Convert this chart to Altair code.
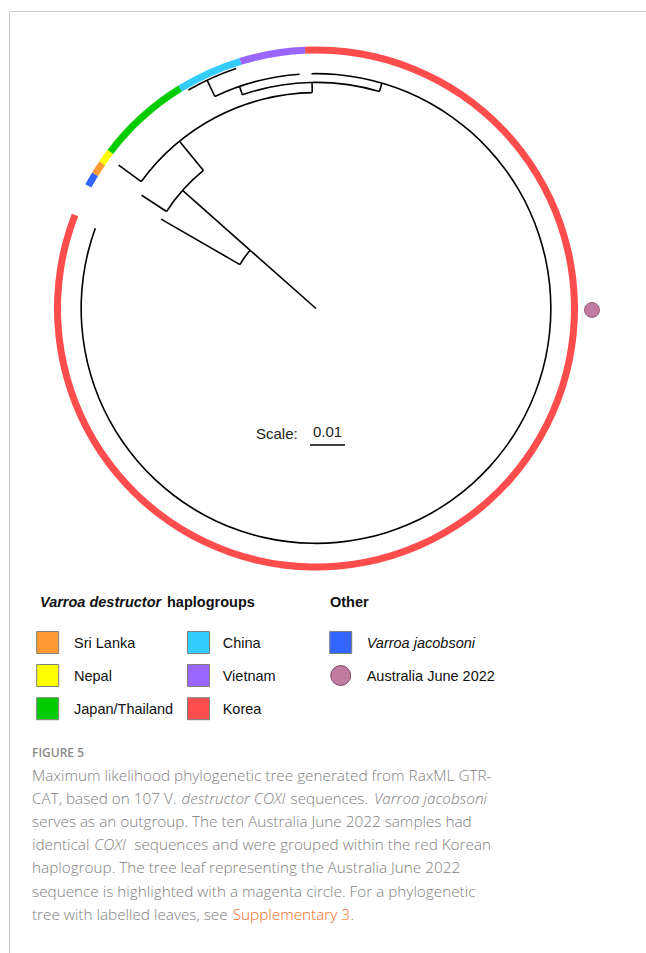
import altair as alt
import pandas as pd

W, H = 646, 953
CX, CY = 316.0, 308.5      # tree centre (px)
K = 3500.0                 # px per unit branch length (0.01 -> 35 px)
RING_IN, RING_OUT = 255.0, 262.0
MARK_R = 276.0
LW = 0.8                   # half line width for arcs

# ---------------- data ----------------
# radial branches: angle (deg, clockwise from north), start / end distance from root
branch_angle = [311.5, 300.0, 311.5, 303.0, 320.8, 306.0, 359.0, 341.0, 334.5, 16.3]
branch_from = [0.0, 0.0251, 0.0251, 0.0509, 0.0509, 0.0617, 0.0617, 0.0646, 0.0671, 0.0646]
branch_to = [0.0251, 0.0511, 0.0509, 0.0594, 0.0617, 0.0697, 0.0646, 0.0671, 0.0723, 0.0671]

# node connector arcs: distance from root, start angle, end angle
arc_dist = [0.0251, 0.0509, 0.0617, 0.0646, 0.0671, 0.0723, 0.0671]
arc_start = [300.0, 303.0, 306.0, 341.0, 334.5, 329.7, 358.9]
arc_end = [311.5, 320.8, 359.0, 376.3, 356.0, 341.6, 650.0]

# haplogroup ring
ring_group = ["Varroa jacobsoni", "Sri Lanka", "Nepal", "Japan/Thailand", "China", "Vietnam", "Korea"]
ring_start = [298.3, 301.3, 304.2, 307.3, 328.3, 343.0, 357.6]
ring_end = [301.3, 304.2, 307.3, 328.3, 343.0, 357.6, 651.2]
group_color = ["#3366FF", "#FF9933", "#FFFF00", "#00CC00", "#33CCFF", "#9966FF", "#FF4D4D"]

# highlighted leaf (Australia June 2022)
aus_angle = [90.3]
aus_color = "#C27BA0"

# legend
legend_labels = ["Sri Lanka", "Nepal", "Japan/Thailand", "China", "Vietnam", "Korea",
                 "Varroa jacobsoni", "Australia June 2022"]
legend_colors = ["#FF9933", "#FFFF00", "#00CC00", "#33CCFF", "#9966FF", "#FF4D4D", "#3366FF", aus_color]
legend_col = [0, 0, 0, 1, 1, 1, 2, 2]
legend_row = [0, 1, 2, 0, 1, 2, 0, 1]

# caption
caption_text = [
    "Maximum likelihood phylogenetic tree generated from RaxML GTR-",
    "CAT, based on 107 V.", "destructor COXI", "sequences.", "Varroa jacobsoni",
    "serves as an outgroup. The ten Australia June 2022 samples had",
    "identical", "COXI", "sequences and were grouped within the red Korean",
    "haplogroup. The tree leaf representing the Australia June 2022",
    "sequence is highlighted with a magenta circle. For a phylogenetic",
    "tree with labelled leaves, see", "Supplementary 3", ".",
]
caption_line = [0, 1, 1, 1, 1, 2, 3, 3, 3, 4, 5, 6, 6, 6]
caption_x = [32, 32, 181.5, 290.5, 374.0, 32, 32, 94.3, 134.3, 32, 32, 32, 232.7, 350.5]
caption_style = ["n", "n", "i", "n", "i", "n", "n", "i", "n", "n", "n", "n", "link", "n"]

# ---------------- layout constants ----------------
col_sq_x = [47.7, 198.5, 340.7]
col_tx_x = [74.0, 222.7, 366.7]
row_y = [642.5, 675.5, 708.7]
CAP_Y0, CAP_DY = 781.0, 23.1
CAP_COLOR = "#808080"
SANS = "Liberation Sans, Arial, sans-serif"
CAPFONT = "Open Sans, sans-serif"
CAP_SIZE = 15.3

xs = alt.Scale(domain=[0, W], nice=False, zero=False)
ys = alt.Scale(domain=[0, H], nice=False, zero=False, reverse=True)


def X(f):
    return alt.X(f, scale=xs, axis=None)


def Y(f):
    return alt.Y(f, scale=ys, axis=None)


# ---------------- tree ----------------
branches = pd.DataFrame({"angle": branch_angle, "d0": branch_from, "d1": branch_to})
rules = alt.Chart(branches).transform_calculate(
    x0=f"{CX} + {K}*datum.d0*sin(datum.angle*PI/180)",
    y0=f"{CY} - {K}*datum.d0*cos(datum.angle*PI/180)",
    x1=f"{CX} + {K}*datum.d1*sin(datum.angle*PI/180)",
    y1=f"{CY} - {K}*datum.d1*cos(datum.angle*PI/180)",
).mark_rule(color="black", strokeWidth=1.6).encode(
    x=X("x0:Q"), y=Y("y0:Q"), x2="x1:Q", y2="y1:Q"
)

arcs_df = pd.DataFrame({"dist": arc_dist, "a0": arc_start, "a1": arc_end})
arcs = alt.Chart(arcs_df).transform_calculate(
    t0="datum.a0*PI/180", t1="datum.a1*PI/180",
    ro=f"{K}*datum.dist + {LW}", ri=f"{K}*datum.dist - {LW}",
).mark_arc(color="black").encode(
    x=alt.XDatum(CX, type="quantitative", scale=xs, axis=None),
    y=alt.YDatum(CY, type="quantitative", scale=ys, axis=None),
    theta=alt.Theta("t0:Q", scale=None, stack=None), theta2="t1:Q",
    radius=alt.Radius("ro:Q", scale=None, stack=None), radius2="ri:Q",
)

ring_df = pd.DataFrame({"group": ring_group, "a0": ring_start, "a1": ring_end})
ring = alt.Chart(ring_df).transform_calculate(
    t0="datum.a0*PI/180", t1="datum.a1*PI/180",
).mark_arc(innerRadius=RING_IN, outerRadius=RING_OUT).encode(
    x=alt.XDatum(CX, type="quantitative", scale=xs, axis=None),
    y=alt.YDatum(CY, type="quantitative", scale=ys, axis=None),
    theta=alt.Theta("t0:Q", scale=None, stack=None), theta2="t1:Q",
    color=alt.Color("group:N", scale=alt.Scale(domain=ring_group, range=group_color), legend=None),
)

aus = alt.Chart(pd.DataFrame({"angle": aus_angle})).transform_calculate(
    x=f"{CX} + {MARK_R}*sin(datum.angle*PI/180)",
    y=f"{CY} - {MARK_R}*cos(datum.angle*PI/180)",
).mark_circle(size=225, color=aus_color, opacity=1, stroke="#7A4A66", strokeWidth=0.8).encode(
    x=X("x:Q"), y=Y("y:Q")
)

# scale bar
SB_X, SB_Y = 310.0, 445.0
scale_df = pd.DataFrame({"len": [0.01]})
scalebar = alt.Chart(scale_df).transform_calculate(
    x0=f"{SB_X}", x1=f"{SB_X} + {K}*datum.len", y=f"{SB_Y}"
).mark_rule(color="black", strokeWidth=1.6).encode(x=X("x0:Q"), x2="x1:Q", y=Y("y:Q"))
scale_lab = alt.Chart(scale_df).transform_calculate(
    x=f"{SB_X} + {K}*datum.len/2", y="436.7", t="format(datum.len, '.2f')"
).mark_text(font=SANS, fontSize=15, color="#222", align="center", baseline="alphabetic").encode(
    x=X("x:Q"), y=Y("y:Q"), text="t:N"
)
scale_word = alt.Chart(scale_df).mark_text(
    font=SANS, fontSize=15, color="#222", align="left", baseline="alphabetic", text="Scale:"
).encode(x=alt.value(256), y=alt.value(439.3))

# ---------------- legend ----------------
leg = pd.DataFrame({"label": legend_labels, "color": legend_colors,
                    "col": legend_col, "row": legend_row})
leg["sx"] = [col_sq_x[c] for c in leg["col"]]
leg["tx"] = [col_tx_x[c] for c in leg["col"]]
leg["y"] = [row_y[r] for r in leg["row"]]
leg["ty"] = leg["y"] + 5.2

sq = alt.Chart(leg).transform_filter("datum.label != 'Australia June 2022'").mark_square(
    size=484, opacity=1, stroke="#7f7f7f", strokeWidth=1
).encode(x=X("sx:Q"), y=Y("y:Q"), fill=alt.Fill("color:N", scale=None))
circ = alt.Chart(leg).transform_filter("datum.label == 'Australia June 2022'").mark_circle(
    size=400, opacity=1, stroke="#7A4A66", strokeWidth=1
).encode(x=X("sx:Q"), y=Y("y:Q"), fill=alt.Fill("color:N", scale=None))
leg_txt = alt.Chart(leg).transform_filter("datum.label != 'Varroa jacobsoni'").mark_text(
    font=SANS, fontSize=14.5, color="#111", align="left", baseline="alphabetic"
).encode(x=X("tx:Q"), y=Y("ty:Q"), text="label:N")
leg_txt_i = alt.Chart(leg).transform_filter("datum.label == 'Varroa jacobsoni'").mark_text(
    font=SANS, fontSize=14.5, color="#111", align="left", baseline="alphabetic", fontStyle="italic"
).encode(x=X("tx:Q"), y=Y("ty:Q"), text="label:N")

titles = pd.DataFrame({"t": ["Varroa destructor", "haplogroups", "Other"],
                       "x": [40.0, 167.0, 330.0], "it": [True, False, False]})
title_i = alt.Chart(titles).transform_filter("datum.it").mark_text(
    font=SANS, fontSize=14.5, fontWeight="bold", fontStyle="italic", color="#111",
    align="left", baseline="alphabetic"
).encode(x=X("x:Q"), y=alt.value(606.5), text="t:N")
title_n = alt.Chart(titles).transform_filter("!datum.it").mark_text(
    font=SANS, fontSize=14.5, fontWeight="bold", color="#111", align="left", baseline="alphabetic"
).encode(x=X("x:Q"), y=alt.value(606.5), text="t:N")

# ---------------- caption ----------------
cap = pd.DataFrame({"t": caption_text, "line": caption_line, "x": caption_x, "s": caption_style})
cap["y"] = CAP_Y0 + CAP_DY * cap["line"]


def cap_layer(style, **kw):
    return alt.Chart(cap).transform_filter(f"datum.s == '{style}'").mark_text(
        font=CAPFONT, fontSize=CAP_SIZE, fontWeight=300, align="left", baseline="alphabetic", **kw
    ).encode(x=X("x:Q"), y=Y("y:Q"), text="t:N")


cap_n = cap_layer("n", color=CAP_COLOR)
cap_i = cap_layer("i", color=CAP_COLOR, fontStyle="italic")
cap_l = cap_layer("link", color="#F26B21")
fig_lab = alt.Chart(pd.DataFrame({"t": ["FIGURE 5"]})).mark_text(
    font=CAPFONT, fontSize=12, fontWeight=600, color="#8a8a8a", align="left", baseline="alphabetic"
).encode(x=alt.value(32), y=alt.value(756.7), text="t:N")

# page frame lines
frame = alt.Chart(pd.DataFrame({"k": [0]})).mark_rule(color="#cccccc", strokeWidth=1)
frame_v = frame.encode(x=alt.value(9.5), y=alt.value(11.5), y2=alt.value(H))
frame_h = frame.encode(x=alt.value(9.5), x2=alt.value(W), y=alt.value(11.5))

chart = alt.layer(
    frame_v, frame_h, ring, arcs, rules, aus, scalebar, scale_lab, scale_word,
    sq, circ, leg_txt, leg_txt_i, title_i, title_n, cap_n, cap_i, cap_l, fig_lab
).properties(width=W, height=H, padding=0, autosize="none", background="white").configure_view(stroke=None)

chart.save("out.html", embed_options={"renderer": "svg", "actions": False})
